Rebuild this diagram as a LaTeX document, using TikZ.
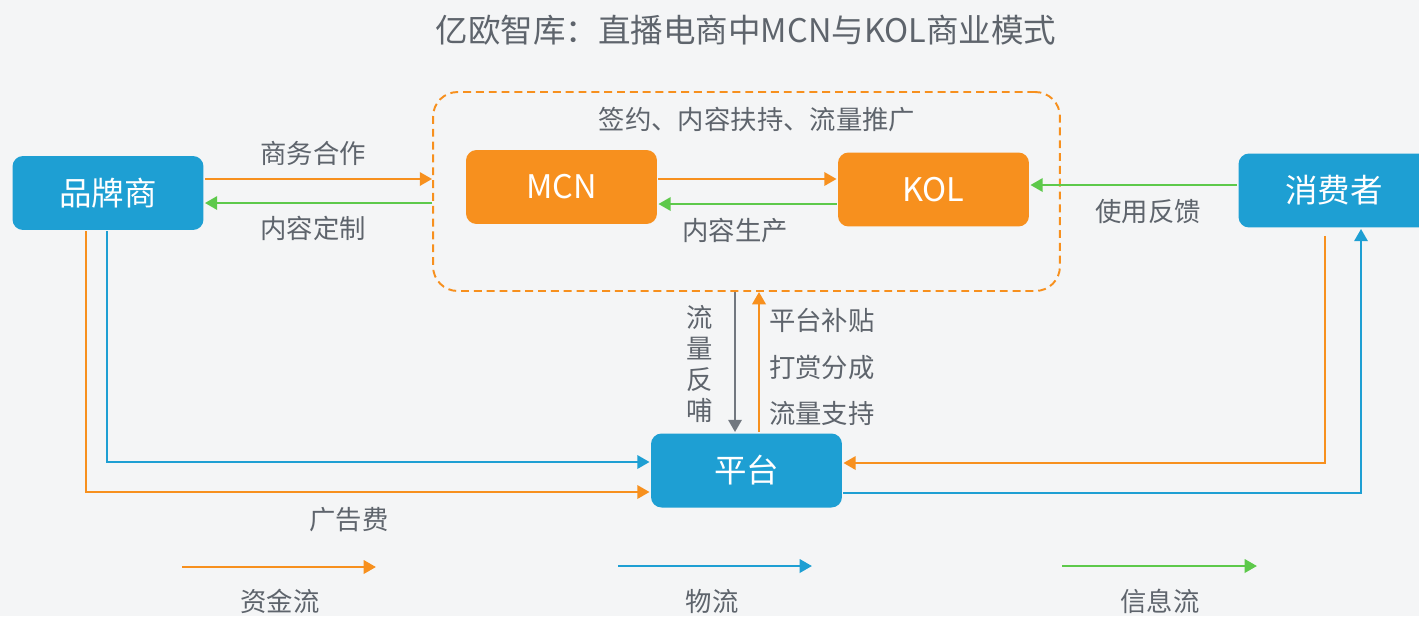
\documentclass[tikz,border=0pt]{standalone}
\usepackage{fontspec}
\setmainfont{Noto Sans CJK SC}
\usetikzlibrary{arrows.meta,calc}
\definecolor{bzblue}{HTML}{1E9FD3}
\definecolor{bzorange}{HTML}{F7901E}
\definecolor{bzgreen}{HTML}{5DC94B}
\definecolor{bzgray}{HTML}{5E646C}
\definecolor{bzarrow}{HTML}{727880}
\definecolor{bzbg}{HTML}{F4F5F6}

\begin{document}
\begin{tikzpicture}[x=0.02cm, y=-0.02cm, >={Triangle[length=7pt,width=7.5pt]}, line width=1.6pt,
		box/.style={rounded corners=6pt, minimum width=3.82cm, minimum height=1.48cm, text=white, font=\fontsize{18.5}{20}\selectfont},
		bluebox/.style={box, fill=bzblue},
		orangebox/.style={box, fill=bzorange},
		lbl/.style={text=bzgray, font=\fontsize{15}{18}\selectfont},
		money/.style={draw=bzorange, ->},
		goods/.style={draw=bzblue, ->},
		info/.style={draw=bzgreen, ->}]
		\fill[bzbg] (0,0) rectangle (1419,616);
		\useasboundingbox (0,0) rectangle (1419,616);
		% title
		\node[text=bzgray, font=\fontsize{18.5}{22}\selectfont] (title) at (746,30) {亿欧智库：直播电商中MCN与KOL商业模式};
		% MCN and KOL inside the dashed group
		\node[draw=bzorange, line width=1.1pt, dash pattern=on 4.5pt off 2.8pt, rounded corners=14pt,
			minimum width=12.54cm, minimum height=3.98cm] (group) at (746.5,191.5) {};
		\node[lbl] (sign) at (757,120) {签约、内容扶持、流量推广};
		\node[orangebox] (mcn) at (561.5,187) {MCN};
		\node[orangebox] (kol) at (933.5,189.5) {KOL};
		% outer parties
		\node[bluebox] (brand) at (108,193) {品牌商};
		\node[bluebox] (consumer) at (1334,190.5) {消费者};
		\node[bluebox] (platform) at (746.5,470.5) {平台};
		% brand <-> group
		\coordinate (bizY) at (0,179);
		\coordinate (cusY) at (0,203);
		\draw[money] (brand.east |- bizY) -- (group.west |- bizY);
		\draw[info] (group.west |- cusY) -- (brand.east |- cusY);
		\node[lbl] (biz) at (313,153) {商务合作};
		\node[lbl] (cus) at (313,228) {内容定制};
		% MCN <-> KOL
		\coordinate (mkY) at (0,179);
		\coordinate (kmY) at (0,204);
		\draw[money] (mcn.east |- mkY) -- (kol.west |- mkY);
		\draw[info] (kol.west |- kmY) -- (mcn.east |- kmY);
		\node[lbl] (prod) at (735,230) {内容生产};
		% consumer -> KOL
		\coordinate (fbY) at (0,185);
		\draw[info] (consumer.west |- fbY) -- (kol.east |- fbY);
		\node[lbl] (fb) at (1148,212) {使用反馈};
		% group <-> platform
		\coordinate (backX) at (735,0);
		\coordinate (subX) at (759,0);
		\draw[draw=bzarrow, ->] (group.south -| backX) -- (platform.north -| backX);
		\draw[money] (platform.north -| subX) -- (group.south -| subX);
		\node[lbl, align=center, font=\fontsize{15}{17.6}\selectfont] (back) at (700,364) {流\\量\\反\\哺};
		\node[lbl, align=left, anchor=west, font=\fontsize{15}{26.6}\selectfont] (sub) at (762,367) {平台补贴\\打赏分成\\流量支持};
		% brand -> platform
		\draw[goods] ($(brand.south)+(-1,0)$) |- ($(platform.west)+(0,-8.5)$);
		\draw[money] ($(brand.south)+(-22,0)$) |- ($(platform.west)+(0,21.5)$);
		\node[lbl] (ad) at (349,520) {广告费};
		% consumer <-> platform
		\draw[money, shorten <=4pt] ($(consumer.south)+(-9,0)$) |- ($(platform.east)+(0,-7.5)$);
		\draw[goods] ($(platform.east)+(0,22.5)$) -| ($(consumer.south)+(27,0)$);
		% legend
		\coordinate (m1) at (182,567);
		\coordinate (m2) at (376,567);
		\coordinate (g1) at (618,566);
		\coordinate (g2) at (812,566);
		\coordinate (i1) at (1062,566);
		\coordinate (i2) at (1257,566);
		\draw[money] (m1) -- (m2);
		\draw[goods] (g1) -- (g2);
		\draw[info] (i1) -- (i2);
		\node[lbl] (money) at (280,601) {资金流};
		\node[lbl] (goods) at (712,601) {物流};
		\node[lbl] (info) at (1160,601) {信息流};
	\end{tikzpicture}
\end{document}
